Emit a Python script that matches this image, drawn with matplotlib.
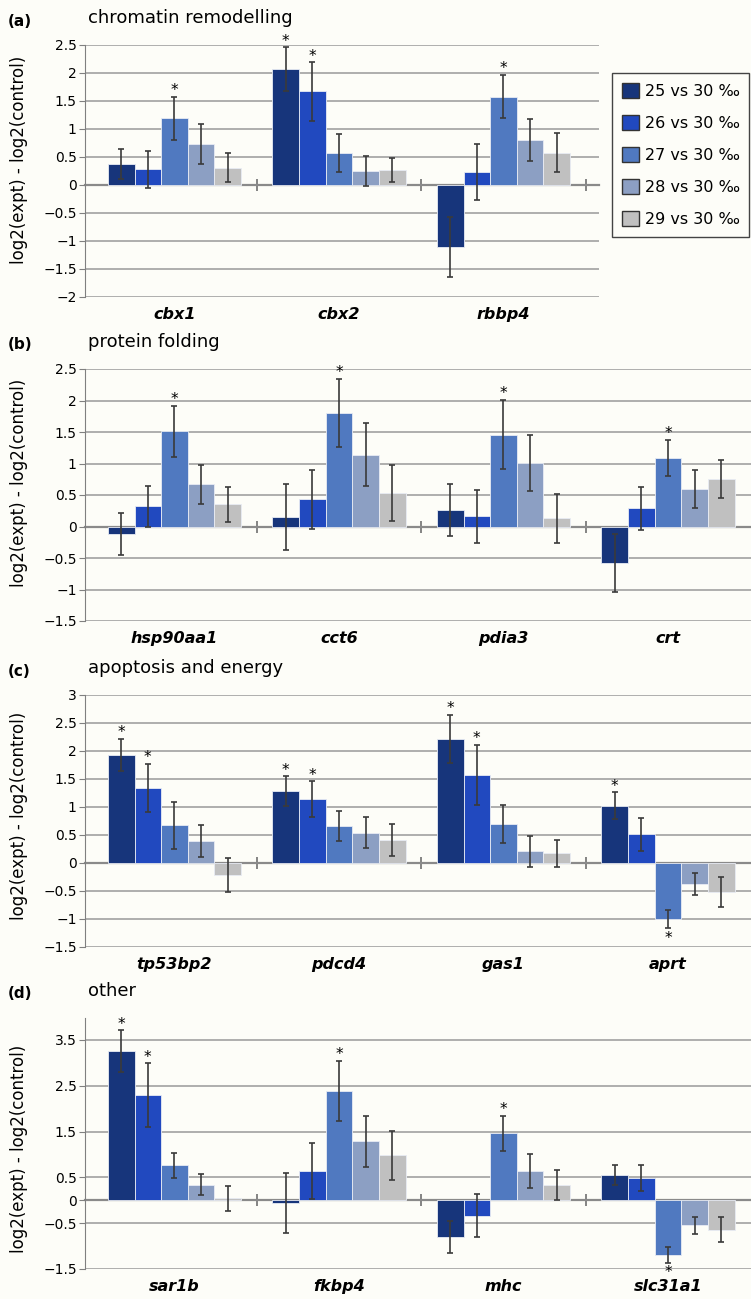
import matplotlib.pyplot as plt
import numpy as np
from matplotlib.patches import Patch
from matplotlib.ticker import FuncFormatter

# series (salinity comparisons)
series = ['25 vs 30 \u2030', '26 vs 30 \u2030', '27 vs 30 \u2030', '28 vs 30 \u2030', '29 vs 30 \u2030']
colors = ['#17357b', '#2149bf', '#5079c0', '#8c9fc3', '#c0c0c0']

# (a) chromatin remodelling
genes_a = ['cbx1', 'cbx2', 'rbbp4']
means_a = [[0.37, 0.28, 1.19, 0.73, 0.31],
           [2.07, 1.67, 0.57, 0.25, 0.27],
           [-1.11, 0.23, 1.58, 0.80, 0.58]]
errs_a = [[0.27, 0.33, 0.38, 0.36, 0.26],
          [0.39, 0.52, 0.34, 0.26, 0.21],
          [0.53, 0.50, 0.39, 0.37, 0.34]]
stars_a = [[2], [0, 1], [2]]

# (b) protein folding
genes_b = ['hsp90aa1', 'cct6', 'pdia3', 'crt']
means_b = [[-0.12, 0.32, 1.51, 0.67, 0.35],
           [0.15, 0.43, 1.80, 1.14, 0.53],
           [0.26, 0.16, 1.46, 1.01, 0.13],
           [-0.58, 0.29, 1.09, 0.59, 0.75]]
errs_b = [[0.34, 0.32, 0.41, 0.31, 0.28],
          [0.53, 0.47, 0.54, 0.50, 0.44],
          [0.41, 0.42, 0.55, 0.45, 0.39],
          [0.46, 0.34, 0.29, 0.30, 0.30]]
stars_b = [[2], [2], [2], [2]]

# (c) apoptosis and energy
genes_c = ['tp53bp2', 'pdcd4', 'gas1', 'aprt']
means_c = [[1.93, 1.34, 0.67, 0.39, -0.21],
           [1.28, 1.14, 0.66, 0.54, 0.41],
           [2.22, 1.57, 0.69, 0.21, 0.17],
           [1.02, 0.51, -1.00, -0.37, -0.52]]
errs_c = [[0.29, 0.43, 0.42, 0.29, 0.30],
          [0.27, 0.32, 0.27, 0.28, 0.28],
          [0.43, 0.54, 0.34, 0.28, 0.24],
          [0.24, 0.30, 0.16, 0.20, 0.27]]
stars_c = [[0, 1], [0, 1], [0, 1], [0, 2]]

# (d) other
genes_d = ['sar1b', 'fkbp4', 'mhc', 'slc31a1']
means_d = [[3.26, 2.30, 0.76, 0.34, 0.04],
           [-0.06, 0.64, 2.39, 1.29, 0.98],
           [-0.81, -0.34, 1.46, 0.64, 0.33],
           [0.56, 0.49, -1.19, -0.55, -0.64]]
errs_d = [[0.45, 0.69, 0.28, 0.23, 0.27],
          [0.65, 0.62, 0.66, 0.56, 0.53],
          [0.35, 0.47, 0.39, 0.38, 0.33],
          [0.22, 0.28, 0.17, 0.19, 0.27]]
stars_d = [[0, 1], [2], [2], [2]]

bg = '#fdfdf8'
W, H = 751, 1299
fig = plt.figure(figsize=(W / 100, H / 100), dpi=100, facecolor=bg)

fmt = FuncFormatter(lambda v, p: f'{v:g}'.replace('-', '\u2212'))
bw = 0.162


def panel(top, bottom, right, genes, means, errs, stars, ylim, yticks, tag, title):
    ax = fig.add_axes([85 / W, 1 - bottom / H, (right - 85) / W, (bottom - top) / H])
    ax.set_facecolor(bg)
    m = np.array(means)
    e = np.array(errs)
    x = np.arange(len(genes))
    for k in range(len(series)):
        xs = x + (k - 2) * bw
        ax.bar(xs, m[:, k], bw, color=colors[k], edgecolor='#e8ecf4', linewidth=0.6, zorder=3)
        ax.errorbar(xs, m[:, k], yerr=e[:, k], fmt='none', ecolor='#3a3a3a',
                    elinewidth=1.2, capsize=2.5, capthick=1.2, zorder=4)
    for g, idx in enumerate(stars):
        for k in idx:
            xs = x[g] + (k - 2) * bw
            if m[g, k] >= 0:
                ax.annotate('*', (xs, m[g, k] + e[g, k]), xytext=(0, -1), textcoords='offset points',
                            ha='center', va='bottom', fontsize=11, zorder=5)
            else:
                ax.annotate('*', (xs, m[g, k] - e[g, k]), xytext=(0, -2), textcoords='offset points',
                            ha='center', va='top', fontsize=11, zorder=5)
    xr = (right - 174.5) / 164.5
    ax.set_xlim(-0.544, xr)
    ax.set_ylim(*ylim)
    ax.set_yticks(yticks)
    ax.yaxis.set_major_formatter(fmt)
    ax.tick_params(axis='y', length=4, color='#808080', labelsize=10, pad=2)
    for t in yticks:
        if t != 0:
            ax.axhline(t, color='#a8a8a8', lw=1.3, zorder=1)
    for s in ['top', 'right', 'bottom']:
        ax.spines[s].set_visible(False)
    ax.spines['left'].set_color('#808080')
    ax.set_xticks(x)
    ax.set_xticklabels(genes, fontsize=11.5, fontweight='bold', fontstyle='italic')
    ax.tick_params(axis='x', length=0, pad=7)
    # zero line with group separators
    zpos = (0 - ylim[0]) / (ylim[1] - ylim[0])
    sec = ax.secondary_xaxis(zpos)
    sec.set_xticks(np.arange(len(genes) - 1 + (1 if len(genes) == 3 else 0)) + 0.5)
    sec.set_xticklabels([])
    sec.tick_params(direction='inout', length=8, width=1.2, color='#707070')
    sec.spines['bottom'].set_color('#8a8a8a')
    sec.spines['bottom'].set_linewidth(1.6)
    sec.spines['bottom'].set_zorder(2)
    # labels
    ty = top - 27
    fig.text(8 / W, 1 - (ty + 3) / H, tag, fontsize=11, fontweight='bold', va='center', ha='left')
    fig.text(88 / W, 1 - ty / H, title, fontsize=13, va='center', ha='left')
    return ax


panel(45, 297, 599, genes_a, means_a, errs_a, stars_a, (-2, 2.5),
      np.arange(-2, 2.51, 0.5), '(a)', 'chromatin remodelling')
panel(369, 621, 751, genes_b, means_b, errs_b, stars_b, (-1.5, 2.5),
      np.arange(-1.5, 2.51, 0.5), '(b)', 'protein folding')
panel(695, 947, 751, genes_c, means_c, errs_c, stars_c, (-1.5, 3.0),
      np.arange(-1.5, 3.01, 0.5), '(c)', 'apoptosis and energy')
panel(1018, 1269, 751, genes_d, means_d, errs_d, stars_d, (-1.5, 3.98),
      [-1.5, -0.5, 0, 0.5, 1.5, 2.5, 3.5], '(d)', 'other')

ylab = 'log2(expt) - log2(control)'
for yc in [160, 483, 816, 1149]:
    fig.text(19 / W, 1 - yc / H, ylab, rotation=90, fontsize=12, ha='center', va='center')

handles = [Patch(facecolor=c, edgecolor='#333333', linewidth=1) for c in colors]
leg = fig.legend(handles, series, loc='upper left', bbox_to_anchor=(612 / W, 1 - 73 / H),
                 bbox_transform=fig.transFigure, borderaxespad=0, fontsize=11.5,
                 frameon=True, fancybox=False, edgecolor='#444444', facecolor=bg,
                 handlelength=1.1, handleheight=1.1, handletextpad=0.35,
                 labelspacing=1.0, borderpad=0.6)
leg.get_frame().set_linewidth(1.0)
leg.get_frame().set_alpha(1)

fig.savefig('out.png', dpi=100, facecolor=bg)
